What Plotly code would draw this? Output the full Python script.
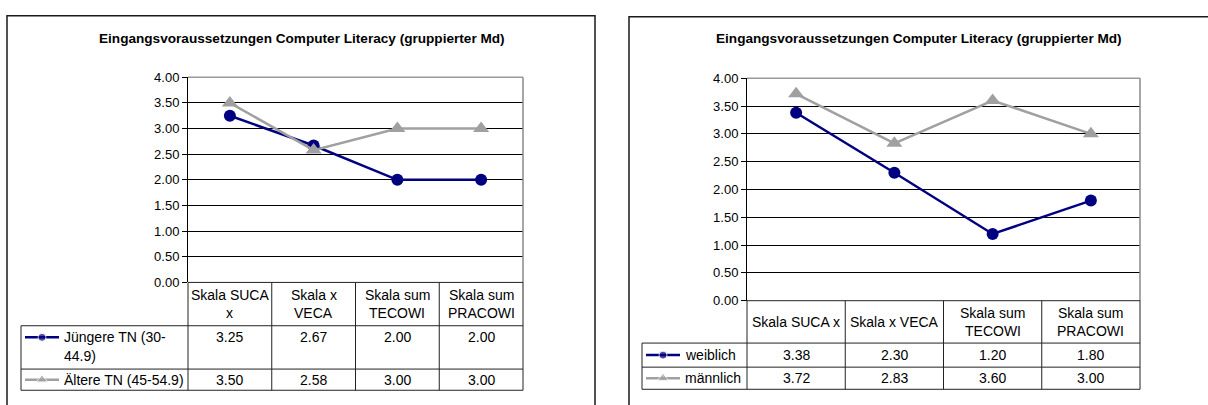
import plotly.graph_objects as go

# ---- data -------------------------------------------------------------
categories = ["Skala SUCA x", "Skala x VECA", "Skala sum TECOWI", "Skala sum PRACOWI"]
title_text = "Eingangsvoraussetzungen Computer Literacy (gruppierter Md)"

# left panel: age groups
left_header_lines = [["Skala SUCA", "x"], ["Skala x", "VECA"],
                     ["Skala sum", "TECOWI"], ["Skala sum", "PRACOWI"]]
left_names = ["Jüngere TN (30-44.9)", "Ältere TN (45-54.9)"]
left_name_lines = [["Jüngere TN (30-", "44.9)"], ["Ältere TN (45-54.9)"]]
left_young = [3.25, 2.67, 2.00, 2.00]
left_old = [3.50, 2.58, 3.00, 3.00]

# right panel: gender
right_header_lines = [["Skala SUCA x"], ["Skala x VECA"],
                      ["Skala sum", "TECOWI"], ["Skala sum", "PRACOWI"]]
right_names = ["weiblich", "männlich"]
right_name_lines = [["weiblich"], ["männlich"]]
right_female = [3.38, 2.30, 1.20, 1.80]
right_male = [3.72, 2.83, 3.60, 3.00]

y_ticks = [0, 0.5, 1, 1.5, 2, 2.5, 3, 3.5, 4]

# ---- styling ----------------------------------------------------------
W, H = 1208, 405
FONT = "Liberation Sans, Arial, sans-serif"
NAVY = "#000080"
GREY = "#A0A0A0"
TABLE_LINE = "#222222"
TABLE_FONT = 14
TICK_FONT = 13
TITLE_FONT = 13.6


def fx(x):
    return x / W


def fy(y):
    return 1 - y / H


panels = [
    dict(box=(7, 9, 595, 420), title_x=302, title_y=33,
         plot=(188, 73, 523, 286), rows=(331, 376, 398), table_left=21,
         header=left_header_lines, names=left_name_lines,
         series=[left_young, left_old], trace_names=left_names,
         line_gap=19),
    dict(box=(629, 10, 1230, 420), title_x=919, title_y=33,
         plot=(747, 74, 1140, 305), rows=(349, 374, 397), table_left=642,
         header=right_header_lines, names=right_name_lines,
         series=[right_female, right_male], trace_names=right_names,
         line_gap=18),
]

styles = [
    dict(color=NAVY, symbol="circle", size=12, key_size=8),
    dict(color=GREY, symbol="triangle-up", size=14, key_size=10),
]

fig = go.Figure()
shapes = []
annotations = []


def hline(x0, x1, y, color=TABLE_LINE, width=1):
    shapes.append(dict(type="line", xref="paper", yref="paper",
                       x0=fx(x0), x1=fx(x1), y0=fy(y), y1=fy(y),
                       line=dict(color=color, width=width), layer="above"))


def vline(x, y0, y1, color=TABLE_LINE, width=1):
    shapes.append(dict(type="line", xref="paper", yref="paper",
                       x0=fx(x), x1=fx(x), y0=fy(y0), y1=fy(y1),
                       line=dict(color=color, width=width), layer="above"))


def text(x, y, s, size=TABLE_FONT, bold=False, xanchor="center"):
    annotations.append(dict(xref="paper", yref="paper", x=fx(x), y=fy(y),
                            text=f"<b>{s}</b>" if bold else s,
                            showarrow=False, xanchor=xanchor, yanchor="middle",
                            font=dict(family=FONT, size=size, color="black")))


for i, p in enumerate(panels):
    n = i + 1
    xa = "x" if n == 1 else f"x{n}"
    ya = "y" if n == 1 else f"y{n}"
    px0, py_top, px1, py_bot = p["plot"]

    fig.update_layout(**{
        ("xaxis" if n == 1 else f"xaxis{n}"): dict(
            domain=[fx(px0), fx(px1)], anchor=ya, type="category",
            categoryorder="array", categoryarray=categories,
            range=[-0.5, len(categories) - 0.5],
            showticklabels=False, showgrid=False, zeroline=False,
            showline=False, ticks=""),
        ("yaxis" if n == 1 else f"yaxis{n}"): dict(
            domain=[fy(py_bot), fy(py_top)], anchor=xa,
            range=[0, 4], tickvals=y_ticks, tickformat=".2f",
            showgrid=True, gridcolor="black", gridwidth=1,
            zeroline=False, showline=True, linecolor="black", linewidth=1,
            ticks="outside", ticklen=5, tickcolor="black",
            tickfont=dict(family=FONT, size=TICK_FONT, color="black")),
    })

    for s, vals, name in zip(styles, p["series"], p["trace_names"]):
        fig.add_trace(go.Scatter(
            x=categories, y=vals, name=name, mode="lines+markers",
            xaxis=xa, yaxis=ya, showlegend=False,
            line=dict(color=s["color"], width=2.5),
            marker=dict(symbol=s["symbol"], size=s["size"], color=s["color"])))

    # outer chart frame
    bx0, by0, bx1, by1 = p["box"]
    shapes.append(dict(type="rect", xref="paper", yref="paper",
                       x0=fx(bx0), x1=fx(bx1), y0=fy(by1), y1=fy(by0),
                       line=dict(color="#1a1a1a", width=1.5), layer="below"))

    # plot area border (top and right)
    hline(px0, px1, py_top, color="#9a9a9a", width=1.5)
    vline(px1, py_top, py_bot, color="#8a8a8a", width=1.5)

    text(p["title_x"], p["title_y"], title_text, size=TITLE_FONT, bold=True)

    # data table under the plot
    r_hdr, r1, r2 = p["rows"]
    ncat = len(categories)
    col_w = (px1 - px0) / ncat
    col_edges = [px0 + k * col_w for k in range(ncat + 1)]
    hline(px0, px1, py_bot)
    for y in (r_hdr, r1, r2):
        hline(p["table_left"], px1, y)
    vline(p["table_left"], r_hdr, r2)
    for xe in col_edges:
        vline(xe, py_bot, r2)

    # header cells
    for k, lines in enumerate(p["header"]):
        cx = (col_edges[k] + col_edges[k + 1]) / 2
        mid = (py_bot + r_hdr) / 2
        y0 = mid - p["line_gap"] * (len(lines) - 1) / 2
        for j, ln in enumerate(lines):
            text(cx, y0 + j * p["line_gap"], ln)

    # value rows with legend keys
    row_bounds = [(r_hdr, r1), (r1, r2)]
    for (rt, rb), s, vals, name_lines in zip(row_bounds, styles, p["series"], p["names"]):
        ty = rt + 12 if len(name_lines) > 1 else (rt + rb) / 2
        for k, v in enumerate(vals):
            cx = (col_edges[k] + col_edges[k + 1]) / 2
            text(cx, ty, f"{v:.2f}")
        kx0 = p["table_left"] + 4
        kx1 = kx0 + 34
        for j, ln in enumerate(name_lines):
            text(kx1 + 3, ty + j * p["line_gap"], ln, xanchor="left")
        fig.add_trace(go.Scatter(
            x=[kx0, (kx0 + kx1) / 2, kx1], y=[ty, ty, ty],
            mode="lines+markers", xaxis="x9", yaxis="y9", showlegend=False,
            hoverinfo="skip",
            line=dict(color=s["color"], width=2.5),
            marker=dict(symbol=s["symbol"], size=[0, s["key_size"], 0],
                        color=s["color"])))

# pixel-space overlay axis for the legend keys
fig.update_layout(
    xaxis9=dict(domain=[0, 1], range=[0, W], visible=False, anchor="y9",
                fixedrange=True),
    yaxis9=dict(domain=[0, 1], range=[H, 0], visible=False, anchor="x9",
                fixedrange=True),
)

fig.update_layout(
    width=W, height=H, margin=dict(l=0, r=0, t=0, b=0),
    paper_bgcolor="white", plot_bgcolor="rgba(0,0,0,0)",
    shapes=shapes, annotations=annotations,
    font=dict(family=FONT, color="black"),
)

fig.write_html("out.html", include_plotlyjs=True, full_html=True,
               config={"displayModeBar": False})
